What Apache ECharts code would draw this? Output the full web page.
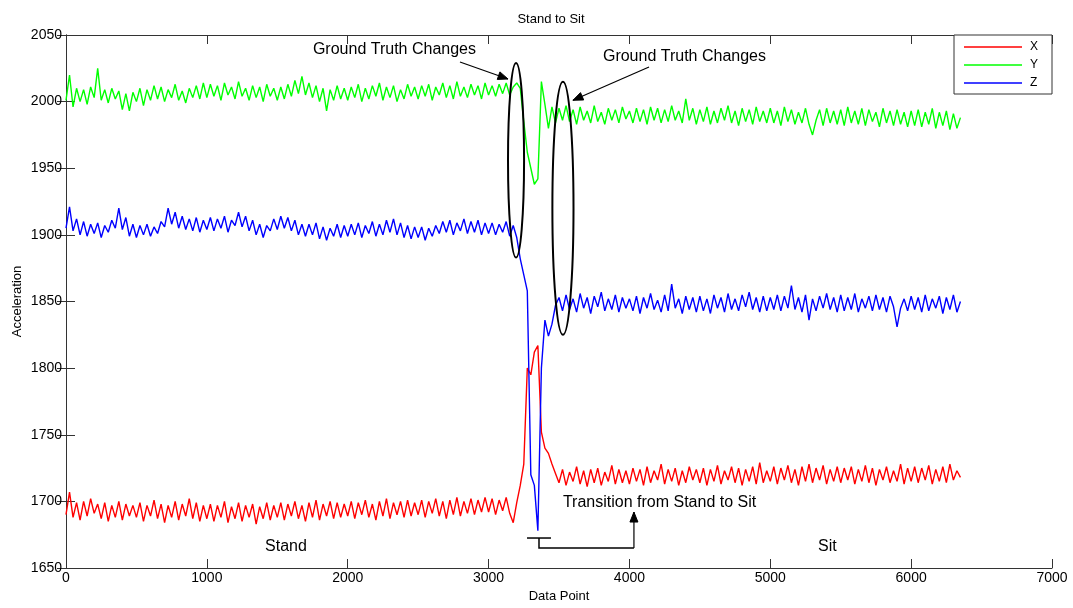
<!DOCTYPE html>
<html>
<head>
<meta charset="utf-8">
<title>Stand to Sit</title>
<script src="https://cdn.jsdelivr.net/npm/echarts@6/dist/echarts.min.js"></script>
<style>
  html, body { margin: 0; padding: 0; background: #ffffff; }
  #chart { width: 1073px; height: 608px; }
</style>
</head>
<body>
<div id="chart"></div>
<script>
// Accelerometer samples, one stored value every SAMPLE_STEP data points.
const SAMPLE_STEP = 25;

const accX = [
  1690, 1707, 1688, 1699, 1686, 1700, 1689, 1702, 1691, 1698, 1687, 1699, 1685, 1697, 1688, 1700, 1686, 1698, 1689, 1697,
  1688, 1699, 1685, 1697, 1689, 1701, 1687, 1698, 1684, 1697, 1688, 1700, 1686, 1698, 1689, 1702, 1687, 1699, 1685, 1697,
  1687, 1698, 1685, 1697, 1688, 1700, 1684, 1696, 1687, 1699, 1685, 1697, 1688, 1698, 1683, 1696, 1687, 1699, 1686, 1697,
  1688, 1699, 1686, 1698, 1689, 1700, 1687, 1697, 1685, 1699, 1688, 1701, 1686, 1698, 1689, 1700, 1687, 1699, 1688, 1698,
  1689, 1700, 1687, 1699, 1690, 1701, 1688, 1698, 1686, 1700, 1689, 1702, 1687, 1699, 1690, 1700, 1688, 1701, 1689, 1699,
  1690, 1701, 1688, 1700, 1691, 1702, 1689, 1700, 1687, 1701, 1690, 1703, 1689, 1700, 1691, 1702, 1690, 1701, 1692, 1703,
  1692, 1702, 1690, 1701, 1693, 1703, 1691, 1684, 1699, 1712, 1728, 1800, 1795, 1812, 1817, 1752, 1740, 1736, 1728, 1721,
  1714, 1724, 1712, 1722, 1715, 1726, 1713, 1723, 1711, 1724, 1714, 1725, 1712, 1722, 1715, 1727, 1713, 1724, 1714, 1723,
  1713, 1725, 1715, 1724, 1712, 1726, 1714, 1723, 1716, 1728, 1713, 1724, 1715, 1725, 1712, 1723, 1714, 1726, 1716, 1724,
  1714, 1725, 1712, 1724, 1715, 1727, 1713, 1723, 1716, 1726, 1714, 1725, 1712, 1724, 1715, 1726, 1713, 1729, 1714, 1723,
  1715, 1726, 1713, 1725, 1716, 1727, 1714, 1724, 1712, 1726, 1715, 1728, 1714, 1725, 1716, 1727, 1713, 1724, 1715, 1726,
  1714, 1725, 1716, 1726, 1713, 1724, 1715, 1727, 1714, 1725, 1712, 1724, 1716, 1726, 1714, 1723, 1715, 1728, 1713, 1725,
  1715, 1726, 1714, 1725, 1716, 1727, 1713, 1724, 1715, 1726, 1714, 1728, 1716, 1723, 1718
];

const accY = [
  2001, 2020, 1996, 2010, 2000, 2009, 1998, 2011, 2003, 2025, 2001, 2009, 1999, 2010, 2002, 2008, 1994, 2006, 1993, 2007,
  2000, 2010, 1997, 2009, 2001, 2012, 2002, 2011, 2000, 2009, 2003, 2013, 2001, 2008, 1999, 2010, 2003, 2012, 2002, 2014,
  2003, 2013, 2004, 2012, 2001, 2014, 2005, 2011, 2002, 2015, 2004, 2010, 2001, 2012, 2003, 2011, 2000, 2013, 2004, 2010,
  2001, 2011, 2002, 2013, 2004, 2016, 2006, 2019, 2005, 2014, 2003, 2012, 2000, 2010, 1993, 2009, 2001, 2012, 2002, 2010,
  2001, 2011, 2003, 2013, 2000, 2010, 2002, 2012, 2004, 2014, 2001, 2011, 2003, 2012, 2000, 2009, 2002, 2013, 2004, 2011,
  2002, 2012, 2004, 2013, 2001, 2011, 2005, 2014, 2003, 2012, 2002, 2015, 2004, 2011, 2003, 2013, 2005, 2012, 2002, 2014,
  2005, 2012, 2004, 2013, 2006, 2014, 2005, 2011, 2014, 2010, 1985, 1962, 1950, 1938, 1942, 2015, 1998, 1980, 1996, 1984,
  1995, 1986, 1997, 1985, 1994, 1983, 1996, 1986, 1993, 1984, 1997, 1985, 1992, 1983, 1995, 1986, 1994, 1984, 1996, 1987,
  1993, 1984, 1995, 1985, 1994, 1983, 1996, 1986, 1995, 1984, 1994, 1985, 1997, 1986, 1993, 1984, 2002, 1986, 1995, 1983,
  1994, 1985, 1996, 1983, 1993, 1984, 1995, 1986, 1997, 1984, 1993, 1982, 1995, 1985, 1994, 1983, 1996, 1985, 1993, 1984,
  1995, 1984, 1993, 1982, 1996, 1985, 1994, 1983, 1992, 1984, 1995, 1983, 1975, 1986, 1994, 1982, 1995, 1984, 1993, 1983,
  1994, 1982, 1996, 1984, 1993, 1983, 1995, 1982, 1994, 1985, 1992, 1981, 1995, 1984, 1993, 1982, 1994, 1983, 1992, 1981,
  1993, 1982, 1994, 1981, 1992, 1983, 1995, 1980, 1992, 1982, 1993, 1979, 1991, 1980, 1988
];

const accZ = [
  1905, 1921, 1903, 1912, 1900, 1910, 1899, 1908, 1901, 1909, 1898, 1907, 1902, 1911, 1905, 1920, 1904, 1913, 1899, 1908,
  1898, 1907, 1900, 1908, 1899, 1906, 1901, 1910, 1906, 1920, 1908, 1917, 1905, 1914, 1904, 1912, 1903, 1913, 1902, 1911,
  1904, 1913, 1903, 1912, 1905, 1914, 1902, 1911, 1907, 1917, 1906, 1914, 1903, 1911, 1900, 1908, 1898, 1907, 1903, 1912,
  1904, 1914, 1905, 1913, 1903, 1911, 1900, 1908, 1899, 1908, 1900, 1909, 1897, 1906, 1896, 1905, 1899, 1908, 1898, 1907,
  1899, 1908, 1900, 1909, 1898, 1907, 1901, 1910, 1899, 1908, 1900, 1911, 1902, 1912, 1900, 1909, 1898, 1907, 1897, 1906,
  1898, 1906, 1896, 1905, 1899, 1907, 1901, 1910, 1902, 1911, 1900, 1909, 1903, 1912, 1901, 1910, 1902, 1911, 1900, 1909,
  1901, 1909, 1900, 1908, 1902, 1910, 1899, 1907, 1898, 1882, 1870, 1858, 1720, 1712, 1678, 1800, 1836, 1824, 1833, 1847,
  1853, 1843, 1855, 1844, 1852, 1842, 1856, 1845, 1853, 1841, 1854, 1846, 1857, 1843, 1852, 1844, 1855, 1842, 1853, 1845,
  1852, 1843, 1854, 1841, 1853, 1845, 1856, 1844, 1851, 1842, 1855, 1843, 1863, 1845, 1852, 1841, 1854, 1844, 1853, 1842,
  1854, 1843, 1852, 1841, 1855, 1845, 1853, 1842, 1856, 1844, 1852, 1843, 1855, 1846, 1857, 1844, 1853, 1842, 1854, 1843,
  1853, 1844, 1855, 1843, 1854, 1845, 1862, 1844, 1853, 1842, 1855, 1836, 1852, 1843, 1854, 1845, 1856, 1844, 1853, 1842,
  1855, 1843, 1853, 1844, 1856, 1842, 1852, 1845, 1854, 1843, 1855, 1844, 1853, 1842, 1854, 1846, 1831, 1845, 1852, 1843,
  1854, 1844, 1853, 1842, 1855, 1843, 1852, 1845, 1854, 1841, 1853, 1844, 1855, 1842, 1850
];

const seriesNames = ['X', 'Y', 'Z'];
const seriesColors = ['#ff0000', '#00ff00', '#0000ff'];
const seriesValues = [accX, accY, accZ];

// Annotation anchors, in data units (x: data point, y: acceleration).
const groundTruthEllipses = [
  { cx: 3195, cy: 1956, rx: 57, ry: 73 },
  { cx: 3528, cy: 1920, rx: 75, ry: 95 }
];
const noteArrows = [
  { from: [2797, 2029.7], to: [3138, 2017] },
  { from: [4139, 2026], to: [3599, 2001] },
  { from: [4032, 1665], to: [4032, 1692] }
];
const bracketLines = [
  [[3273, 1672.5], [3443, 1672.5]],
  [[3358, 1672.5], [3358, 1665], [4032, 1665]]
];
const noteLabels = [
  { text: 'Ground Truth Changes', at: [1753, 2038.7] },
  { text: 'Ground Truth Changes', at: [3812, 2033.5] },
  { text: 'Transition from Stand to Sit', at: [3528, 1698.8] },
  { text: 'Stand', at: [1413, 1665.8] },
  { text: 'Sit', at: [5339, 1665.8] }
];

const FONT = '"Liberation Sans", Arial, Helvetica, sans-serif';
const AXIS_COLOR = '#333333';

function toPairs(values) {
  return values.map((v, i) => [i * SAMPLE_STEP, v]);
}

const chart = echarts.init(document.getElementById('chart'), null, { renderer: 'canvas' });

const boxAxisCommon = {
  axisLine: { show: true, lineStyle: { color: AXIS_COLOR, width: 1 } },
  axisTick: { show: true, inside: true, length: 9, lineStyle: { color: AXIS_COLOR, width: 1 } },
  splitLine: { show: false }
};

const plainNumber = v => String(v);

chart.setOption({
  animation: false,
  backgroundColor: '#ffffff',
  title: {
    text: 'Stand to Sit',
    left: 546,
    top: 8,
    textAlign: 'center',
    textStyle: { fontFamily: FONT, fontSize: 13, fontWeight: 'normal', color: '#000' }
  },
  grid: { left: 66, right: 21, top: 35, bottom: 40, containLabel: false, outerBoundsMode: 'none' },
  legend: {
    data: seriesNames,
    orient: 'vertical',
    left: 954,
    top: 35,
    padding: [6, 14, 5, 10],
    itemWidth: 58,
    itemHeight: 1.5,
    itemGap: 6,
    icon: 'rect',
    backgroundColor: '#ffffff',
    borderColor: AXIS_COLOR,
    borderWidth: 1,
    z: 10,
    textStyle: { fontFamily: FONT, fontSize: 12, color: '#000', padding: [0, 0, 0, 3] }
  },
  xAxis: [
    Object.assign({
      type: 'value', position: 'bottom', min: 0, max: 7000, interval: 1000,
      name: 'Data Point', nameLocation: 'middle', nameGap: 21,
      nameTextStyle: { fontFamily: FONT, fontSize: 13, color: '#000' },
      axisLabel: { fontFamily: FONT, fontSize: 14, color: '#000', margin: 3, formatter: plainNumber }
    }, boxAxisCommon),
    Object.assign({
      type: 'value', position: 'top', min: 0, max: 7000, interval: 1000,
      axisLabel: { show: false }
    }, boxAxisCommon)
  ],
  yAxis: [
    Object.assign({
      type: 'value', position: 'left', min: 1650, max: 2050, interval: 50,
      name: 'Acceleration', nameLocation: 'middle', nameGap: 42, nameRotate: 90,
      nameMoveOverlap: false,
      nameTextStyle: { fontFamily: FONT, fontSize: 13, color: '#000' },
      axisLabel: { fontFamily: FONT, fontSize: 14, color: '#000', margin: 4, formatter: plainNumber }
    }, boxAxisCommon),
    Object.assign({
      type: 'value', position: 'right', min: 1650, max: 2050, interval: 50,
      axisLabel: { show: false }
    }, boxAxisCommon)
  ],
  series: seriesNames.map((name, k) => ({
    name: name,
    type: 'line',
    xAxisIndex: 0,
    yAxisIndex: 0,
    data: toPairs(seriesValues[k]),
    showSymbol: false,
    symbol: 'none',
    sampling: null,
    color: seriesColors[k],
    lineStyle: { color: seriesColors[k], width: 1.4 },
    emphasis: { disabled: true },
    z: 2 + k
  }))
});

// Annotations are placed from their data anchors through the grid's scales.
function px(pt) {
  return chart.convertToPixel({ gridIndex: 0 }, pt);
}

function arrowHead(tip, from, len, halfW) {
  const dx = tip[0] - from[0];
  const dy = tip[1] - from[1];
  const L = Math.hypot(dx, dy) || 1;
  const ux = dx / L, uy = dy / L;
  const bx = tip[0] - ux * len, by = tip[1] - uy * len;
  return [tip, [bx - uy * halfW, by + ux * halfW], [bx + uy * halfW, by - ux * halfW]];
}

const graphics = [];

groundTruthEllipses.forEach(e => {
  const c = px([e.cx, e.cy]);
  const rxp = Math.abs(px([e.cx + e.rx, e.cy])[0] - c[0]);
  const ryp = Math.abs(px([e.cx, e.cy + e.ry])[1] - c[1]);
  graphics.push({
    type: 'ellipse', z: 100,
    shape: { cx: c[0], cy: c[1], rx: rxp, ry: ryp },
    style: { fill: null, stroke: '#000', lineWidth: 2 }
  });
});

noteArrows.forEach(a => {
  const p0 = px(a.from), p1 = px(a.to);
  graphics.push({
    type: 'line', z: 100,
    shape: { x1: p0[0], y1: p0[1], x2: p1[0], y2: p1[1] },
    style: { stroke: '#000', lineWidth: 1.2 }
  });
  graphics.push({
    type: 'polygon', z: 100,
    shape: { points: arrowHead(p1, p0, 10, 4) },
    style: { fill: '#000', stroke: '#000', lineWidth: 1 }
  });
});

bracketLines.forEach(seg => {
  graphics.push({
    type: 'polyline', z: 100,
    shape: { points: seg.map(px) },
    style: { stroke: '#000', lineWidth: 1.5, fill: null }
  });
});

noteLabels.forEach(n => {
  const p = px(n.at);
  graphics.push({
    type: 'text', z: 100,
    x: p[0], y: p[1],
    style: {
      text: n.text, fill: '#000',
      font: '16px ' + FONT,
      align: 'left', verticalAlign: 'middle'
    }
  });
});

chart.setOption({ graphic: graphics });
</script>
</body>
</html>
